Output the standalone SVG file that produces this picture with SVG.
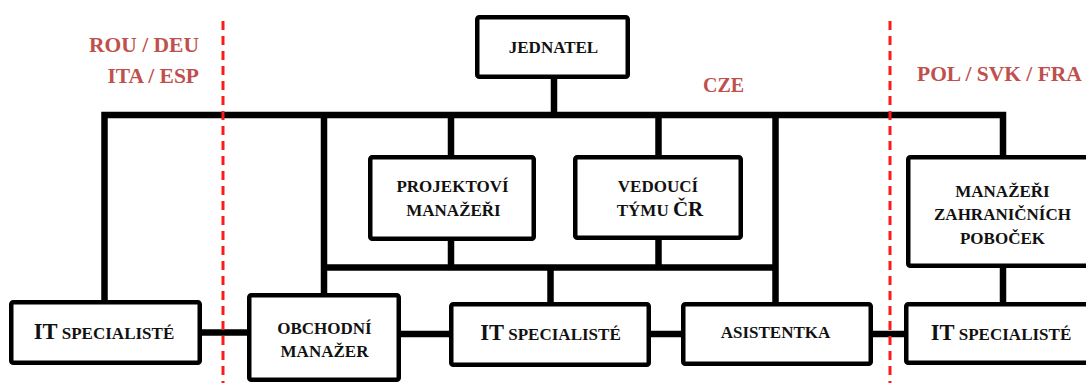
<svg xmlns="http://www.w3.org/2000/svg" width="1086" height="383" viewBox="0 0 1086 383">
<style>
.box{fill:#fff;stroke:#000;stroke-width:4.5}
.ln{fill:none;stroke:#000;stroke-width:6.5;stroke-linejoin:miter;stroke-linecap:butt}
.dash{fill:none;stroke:#ff1a1a;stroke-width:3;stroke-dasharray:9 6}
.t{font-weight:bold;font-size:17px;fill:#111;text-anchor:middle}
.big{font-size:22.5px}
.r{font-weight:bold;font-size:21.5px;fill:#c0504d}
</style>
<rect width="1086" height="383" fill="#fff"/>
<g id="connectors">
<path class="ln" d="M104.5,300 V115 H1003 V156"/>
<path class="ln" d="M554,79 V115"/>
<path class="ln" d="M324,115 V293"/>
<path class="ln" d="M451,115 V155"/>
<path class="ln" d="M658.5,115 V155"/>
<path class="ln" d="M775.5,115 V302"/>
<path class="ln" d="M324,267.5 H775.5"/>
<path class="ln" d="M451,241 V267.5"/>
<path class="ln" d="M658.5,240 V267.5"/>
<path class="ln" d="M550.5,267.5 V302"/>
<path class="ln" d="M1003,268 V302"/>
<path class="ln" d="M202,332.5 H247"/>
<path class="ln" d="M401,334 H449"/>
<path class="ln" d="M651,334 H681"/>
<path class="ln" d="M873,334 H904"/>
</g>
<g id="dividers">
<path class="dash" d="M223,21 V383"/>
<path class="dash" d="M890,21 V383"/>
</g>
<g font-family="Liberation Serif, DejaVu Serif, serif">
<g id="regions">
<text class="r" x="199" y="52" text-anchor="end">ROU / DEU</text>
<text class="r" x="199" y="83" text-anchor="end">ITA / ESP</text>
<text class="r" x="703" y="92" style="font-size:20px">CZE</text>
<text class="r" x="917" y="81">POL / SVK / FRA</text>
</g>
<g id="jednatel">
<rect class="box" x="477.25" y="17.25" width="150.5" height="59.5" rx="2"/>
<text class="t" x="553.5" y="53">JEDNATEL</text>
</g>
<g id="projektovi">
<rect class="box" x="370.25" y="157.25" width="163.5" height="81.5" rx="2"/>
<text class="t" x="452.5" y="192">PROJEKTOVÍ</text>
<text class="t" x="453.5" y="216">MANAŽEŘI</text>
</g>
<g id="vedouci">
<rect class="box" x="575.25" y="157.25" width="165.5" height="80.5" rx="2"/>
<text class="t" x="658" y="192">VEDOUCÍ</text>
<text class="t" x="660" y="216">TÝMU <tspan style="font-size:21px">ČR</tspan></text>
</g>
<g id="manazeri-zahranicnich">
<rect class="box" x="908.25" y="157.25" width="190" height="108.5" rx="2"/>
<text class="t" x="1002.5" y="196.5">MANAŽEŘI</text>
<text class="t" x="1002.5" y="220">ZAHRANIČNÍCH</text>
<text class="t" x="1002.5" y="243.5">POBOČEK</text>
</g>
<g id="it-left">
<rect class="box" x="11.25" y="302.25" width="188.5" height="60.5" rx="2"/>
<text class="t" x="104" y="339"><tspan class="big">IT</tspan> SPECIALISTÉ</text>
</g>
<g id="obchodni">
<rect class="box" x="249.25" y="295.25" width="149.5" height="84.5" rx="2"/>
<text class="t" x="324.5" y="334">OBCHODNÍ</text>
<text class="t" x="324.5" y="357">MANAŽER</text>
</g>
<g id="it-mid">
<rect class="box" x="451.25" y="304.25" width="197.5" height="60.5" rx="2"/>
<text class="t" x="550.5" y="340"><tspan class="big">IT</tspan> SPECIALISTÉ</text>
</g>
<g id="asistentka">
<rect class="box" x="683.25" y="304.25" width="187.5" height="59.5" rx="2"/>
<text class="t" x="775.5" y="338">ASISTENTKA</text>
</g>
<g id="it-right">
<rect class="box" x="906.25" y="304.25" width="192" height="58.5" rx="2"/>
<text class="t" x="1001" y="340"><tspan class="big">IT</tspan> SPECIALISTÉ</text>
</g>
</g>
</svg>
